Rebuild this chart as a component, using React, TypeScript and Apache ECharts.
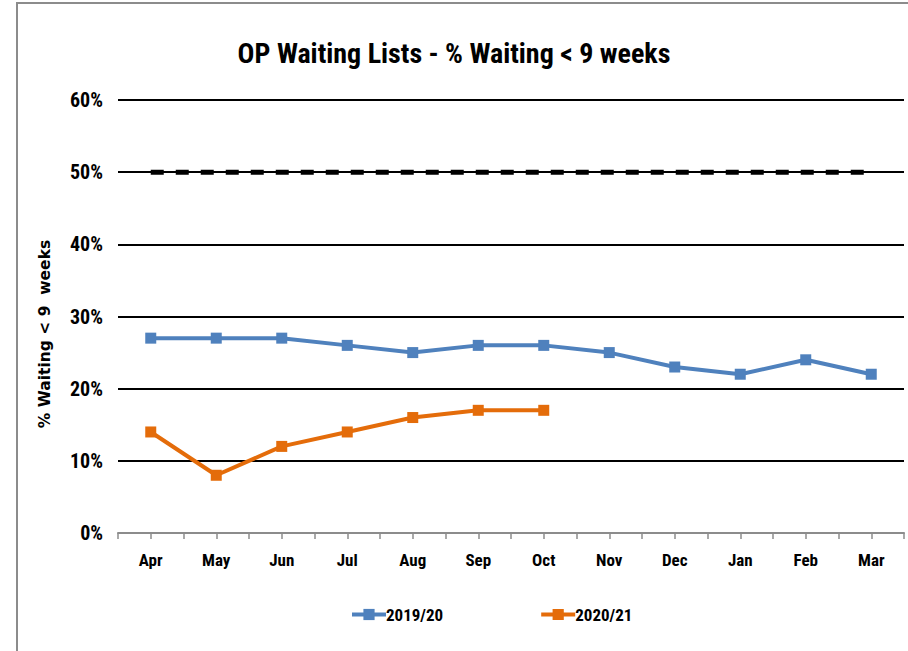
import React, { useEffect, useRef } from "react";
import * as echarts from "echarts";

const months = ["Apr", "May", "Jun", "Jul", "Aug", "Sep", "Oct", "Nov", "Dec", "Jan", "Feb", "Mar"];
const series2019 = [27, 27, 27, 26, 25, 26, 26, 25, 23, 22, 24, 22];
const series2020 = [14, 8, 12, 14, 16, 17, 17];
const target = [50, 50, 50, 50, 50, 50, 50, 50, 50, 50, 50, 50];
const yTicks = [0, 10, 20, 30, 40, 50, 60];

const NARROW = '"Liberation Sans Narrow", "Arial Narrow", "Roboto Condensed", "Open Sans", sans-serif';

export default function App() {
  const ref = useRef<HTMLDivElement>(null);
  useEffect(() => {
    if (!ref.current) return;
    const chart = echarts.init(ref.current, undefined, { renderer: "svg" });
    chart.setOption({
      animation: false,
      backgroundColor: "#ffffff",
      title: {
        text: "OP Waiting Lists - % Waiting < 9 weeks",
        left: "center",
        top: 34,
        textStyle: { fontFamily: NARROW, fontWeight: "bold", fontSize: 28, color: "#000" },
      },
      graphic: [
        {
          type: "rect",
          shape: { x: 17, y: 3, width: 1200, height: 1200 },
          style: { fill: "none", stroke: "#8c8c8c", lineWidth: 2 },
          silent: true,
        },
        {
          type: "text",
          x: 45,
          y: 334,
          rotation: Math.PI / 2,
          style: {
            text: "% Waiting < 9  weeks",
            fontFamily: '"DejaVu Sans", Verdana, sans-serif',
            fontWeight: "bold",
            fontSize: 15.5,
            fill: "#000",
            align: "center",
            verticalAlign: "middle",
          },
        },
      ],
      legend: {
        data: ["2019/20", "2020/21"],
        left: 345,
        top: 601,
        itemWidth: 34,
        itemHeight: 14,
        itemGap: 96,
        lineStyle: { width: 4 },
        textStyle: { fontFamily: NARROW, fontWeight: "bold", fontSize: 17, color: "#000", padding: [0, 0, 0, -5] },
      },
      grid: { left: 118, right: 4, top: 100, bottom: 118 },
      xAxis: [
        {
          type: "category",
          data: months,
          boundaryGap: true,
          axisLine: { show: true, lineStyle: { color: "#8c8c8c", width: 2 } },
          axisTick: { show: true, length: 6, lineStyle: { color: "#8c8c8c", width: 1.5 } },
          axisLabel: {
            margin: 18,
            fontFamily: NARROW,
            fontWeight: "bold",
            fontSize: 17,
            color: "#000",
          },
        },
        {
          type: "category",
          data: months,
          position: "bottom",
          boundaryGap: true,
          axisLine: { show: false },
          axisTick: { show: true, alignWithLabel: true, length: 6, lineStyle: { color: "#8c8c8c", width: 1.5 } },
          axisLabel: { show: false },
        },
      ],
      yAxis: {
        type: "value",
        min: yTicks[0],
        max: yTicks[yTicks.length - 1],
        interval: 10,
        axisLine: { show: false },
        axisTick: { show: false },
        splitLine: { show: true, lineStyle: { color: "#000", width: 2 } },
        axisLabel: {
          margin: 15,
          formatter: (v: number) => `${v}%`,
          fontFamily: NARROW,
          fontWeight: "bold",
          fontSize: 20,
          color: "#000",
        },
      },
      series: [
        {
          name: "Target",
          type: "line",
          data: target,
          symbol: "none",
          lineStyle: { color: "#000", width: 5, type: [13, 12] },
          z: 1,
          silent: true,
        },
        {
          name: "2019/20",
          type: "line",
          data: series2019,
          color: "#4F81BD",
          symbol: "rect",
          symbolSize: 11,
          lineStyle: { width: 4, color: "#4F81BD" },
          itemStyle: { color: "#4F81BD" },
          z: 3,
        },
        {
          name: "2020/21",
          type: "line",
          data: series2020,
          color: "#E46C0A",
          symbol: "rect",
          symbolSize: 11,
          lineStyle: { width: 4, color: "#E46C0A" },
          itemStyle: { color: "#E46C0A" },
          z: 3,
        },
      ],
    });
    return () => chart.dispose();
  }, []);
  return (
    <div
      ref={ref}
      style={{ position: "fixed", left: 0, top: 0, width: 908, height: 651, background: "#fff" }}
    />
  );
}
